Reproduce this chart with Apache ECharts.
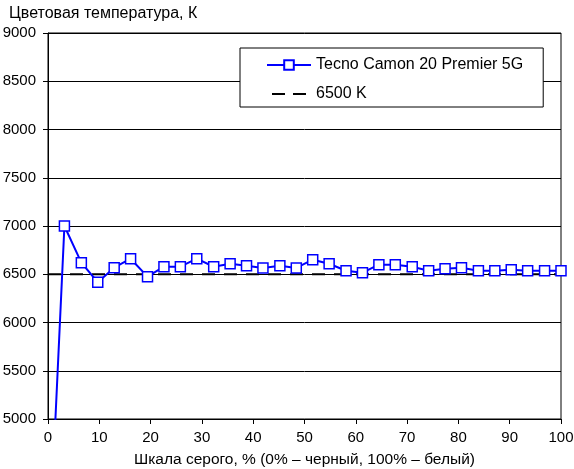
<!DOCTYPE html>
<html>
<head>
<meta charset="utf-8">
<script src="https://cdn.jsdelivr.net/npm/echarts@6/dist/echarts.min.js"></script>
<style>
  html, body { margin: 0; padding: 0; background: #fff; }
  #chart { width: 574px; height: 469px; }
</style>
</head>
<body>
<div id="chart"></div>
<script>
// уровни серого, %
var grayLevels = [0, 3.2, 6.5, 9.7, 12.9, 16.1, 19.4, 22.6, 25.8, 29.0, 32.3, 35.5, 38.7, 41.9, 45.2, 48.4,
  51.6, 54.8, 58.1, 61.3, 64.5, 67.7, 71.0, 74.2, 77.4, 80.6, 83.9, 87.1, 90.3, 93.5, 96.8, 100];
// цветовая температура, K
var tecnoTemp = [3350, 7000, 6620, 6417, 6568, 6661, 6475, 6578, 6578, 6661, 6578, 6609, 6588, 6565, 6588, 6565,
  6651, 6609, 6536, 6516, 6599, 6599, 6578, 6536, 6557, 6568, 6536, 6536, 6547, 6536, 6536, 6536];
var refX = [0, 100];
var refTemp = [6500, 6500];

var seriesName = 'Tecno Camon 20 Premier 5G';
var refName = '6500 K';
var font = 'Liberation Sans';

// значок пунктира для легенды (две черточки)
var dashIcon = 'path://M0,0L0.01,0ZM0,12L0.01,12ZM0,5H13V7H0ZM21,5H34V7H21Z';

var chart = echarts.init(document.getElementById('chart'));

chart.setOption({
  animation: false,
  textStyle: { fontFamily: font },
  title: {
    text: 'Цветовая температура, К',
    left: 4,
    top: 1,
    textStyle: { fontFamily: font, fontSize: 16, fontWeight: 'normal', color: '#000' }
  },
  grid: {
    left: 48, right: 13, top: 33, bottom: 50,
    outerBoundsMode: 'none',
    containLabel: false,
    show: true, borderColor: '#000', borderWidth: 1
  },
  legend: {
    data: [seriesName, { name: refName, icon: dashIcon }],
    orient: 'vertical',
    left: 240,
    top: 48,
    backgroundColor: '#fff',
    borderColor: '#000',
    borderWidth: 1,
    borderRadius: 0,
    padding: [9, 20, 5, 26],
    itemWidth: 44,
    itemHeight: 12,
    itemGap: 13,
    textStyle: { fontFamily: font, fontSize: 16, color: '#000' }
  },
  xAxis: {
    type: 'value',
    min: 0,
    max: 100,
    interval: 10,
    name: 'Шкала серого, % (0% – черный, 100% – белый)',
    nameLocation: 'middle',
    nameGap: 33,
    nameTextStyle: { fontFamily: font, fontSize: 15.5, color: '#000' },
    axisLine: { lineStyle: { color: '#000', width: 1 } },
    axisTick: { show: true, length: 5, lineStyle: { color: '#000' } },
    axisLabel: { fontFamily: font, fontSize: 15, color: '#000', margin: 11 },
    splitLine: { show: false }
  },
  yAxis: {
    type: 'value',
    min: 5000,
    max: 9000,
    interval: 500,
    axisLine: { show: true, lineStyle: { color: '#000', width: 1 } },
    axisTick: { show: true, length: 5, lineStyle: { color: '#000' } },
    axisLabel: { fontFamily: font, fontSize: 15, color: '#000', margin: 12, formatter: function (v) { return String(v); } },
    splitLine: { show: true, lineStyle: { color: '#000', width: 1 } }
  },
  series: [
    {
      name: refName,
      type: 'line',
      data: refX.map(function (x, i) { return [x, refTemp[i]]; }),
      symbol: 'none',
      lineStyle: { color: '#000', width: 2, type: [13, 9] },
      itemStyle: { color: '#000' },
      z: 2
    },
    {
      name: seriesName,
      type: 'line',
      data: grayLevels.map(function (x, i) { return [x, tecnoTemp[i]]; }),
      symbol: 'rect',
      symbolSize: 10,
      showAllSymbol: true,
      clip: true,
      lineStyle: { color: '#0000ff', width: 2 },
      itemStyle: { color: '#fff', borderColor: '#0000ff', borderWidth: 1.5 },
      z: 3
    }
  ]
});
</script>
</body>
</html>
